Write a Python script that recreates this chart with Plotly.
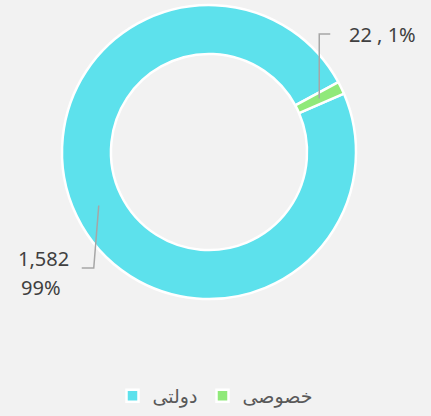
import math
import plotly.graph_objects as go

labels = ["دولتی", "خصوصی"]
values = [1582, 22]
percents = ["99%", "1%"]
colors = ["#5de1ec", "#90e97a"]

W, H = 431, 416
cx, cy, R = 209, 152, 147
hole = 0.667
rotation = 66.6

def px(x):
    return x / W

def py(y):
    return 1 - y / H

fig = go.Figure(go.Pie(
    labels=labels, values=values, hole=hole, sort=False,
    direction="clockwise", rotation=rotation,
    marker=dict(colors=colors, line=dict(color="#ffffff", width=2.5)),
    textinfo="none", hoverinfo="label+value+percent",
    domain=dict(x=[px(cx - R), px(cx + R)], y=[py(cy + R), py(cy - R)]),
))

# leader line anchors computed from slice mid angles
total = sum(values)
angles = []
start = rotation
for v in values:
    span = 360 * v / total
    angles.append(start + span / 2)
    start += span
rmid = R * (1 + hole) / 2
anchors = [(cx + rmid * math.sin(math.radians(a)), cy - rmid * math.cos(math.radians(a))) for a in angles]

shapes = []
annotations = []
lab_font = dict(size=20, color="#404040", family="Noto Sans, DejaVu Sans, sans-serif")
# cyan label (lower left)
ax, ay = anchors[0]
elbow_y = 268
shapes.append(dict(type="path", xref="paper", yref="paper",
                   path=f"M {px(ax)},{py(ay)} L {px(ax-5)},{py(elbow_y)} L {px(ax-17)},{py(elbow_y)}",
                   line=dict(color="#a6a6a6", width=1.5)))
annotations.append(dict(x=px(71), y=py(258), xref="paper", yref="paper", xanchor="right", yanchor="middle",
                        text=f"{values[0]:,}", showarrow=False, font=lab_font))
annotations.append(dict(x=px(19), y=py(287), xref="paper", yref="paper", xanchor="left", yanchor="middle",
                        text=percents[0], showarrow=False, font=lab_font))
# green label (upper right)
gx, gy = anchors[1]
shapes.append(dict(type="path", xref="paper", yref="paper",
                   path=f"M {px(gx)},{py(gy)} L {px(gx)},{py(34)} L {px(gx+11)},{py(34)}",
                   line=dict(color="#a6a6a6", width=1.5)))
annotations.append(dict(x=px(347), y=py(34), xref="paper", yref="paper", xanchor="left", yanchor="middle",
                        text=f"{values[1]:,} , {percents[1]}", showarrow=False, font=lab_font))

fig.update_layout(
    width=W, height=H,
    paper_bgcolor="#f2f2f2", plot_bgcolor="#f2f2f2",
    margin=dict(l=0, r=0, t=0, b=0),
    font=dict(family="Noto Sans, DejaVu Sans, sans-serif", color="#595959"),
    showlegend=True,
    legend=dict(orientation="h", x=0.5, xanchor="center", y=py(396), yanchor="middle",
                font=dict(size=19, color="#595959"), bgcolor="rgba(0,0,0,0)"),
    shapes=shapes, annotations=annotations,
)

fig.write_html("out.html", config={"displayModeBar": False},
               post_script="document.body.style.margin='0';document.body.style.background='#f2f2f2';")
